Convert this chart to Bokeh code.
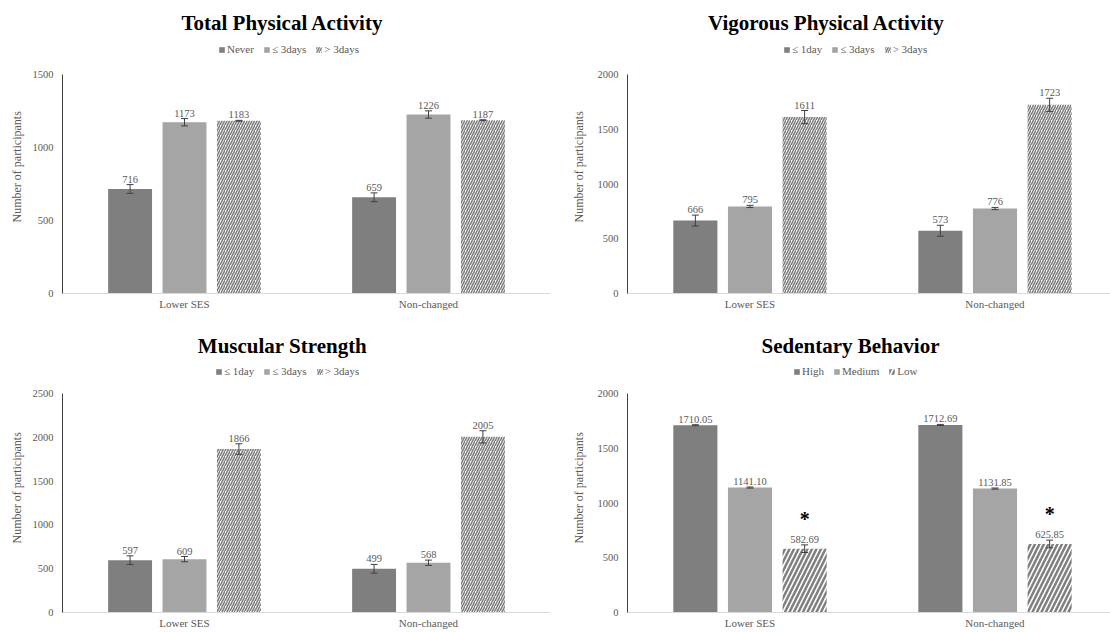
import numpy as np
from bokeh.plotting import figure
from bokeh.models import (ColumnDataSource, Range1d, FixedTicker, Legend, LegendItem,
                          Whisker, TeeHead, Label, Title)
from bokeh.layouts import column, row
from bokeh.embed import file_html
from bokeh.resources import INLINE
from bokeh.core.properties import value

# ---------------- data ----------------
groups = ["Lower SES", "Non-changed"]
y_title = "Number of participants"

tpa_title = "Total Physical Activity"
tpa_series = ["Never", "≤ 3days", "> 3days"]
tpa_never = [716, 659]
tpa_le3 = [1173, 1226]
tpa_gt3 = [1183, 1187]
tpa_err_never = [30, 30]
tpa_err_le3 = [25, 25]
tpa_err_gt3 = [3, 3]
tpa_yticks = [0, 500, 1000, 1500]

vpa_title = "Vigorous Physical Activity"
vpa_series = ["≤ 1day", "≤ 3days", "> 3days"]
vpa_le1 = [666, 573]
vpa_le3 = [795, 776]
vpa_gt3 = [1611, 1723]
vpa_err_le1 = [50, 50]
vpa_err_le3 = [10, 10]
vpa_err_gt3 = [60, 60]
vpa_yticks = [0, 500, 1000, 1500, 2000]

ms_title = "Muscular Strength"
ms_series = ["≤ 1day", "≤ 3days", "> 3days"]
ms_le1 = [597, 499]
ms_le3 = [609, 568]
ms_gt3 = [1866, 2005]
ms_err_le1 = [50, 50]
ms_err_le3 = [30, 30]
ms_err_gt3 = [60, 70]
ms_yticks = [0, 500, 1000, 1500, 2000, 2500]

sb_title = "Sedentary Behavior"
sb_series = ["High", "Medium", "Low"]
sb_high = [1710.05, 1712.69]
sb_medium = [1141.10, 1131.85]
sb_low = [582.69, 625.85]
sb_err_high = [5, 5]
sb_err_medium = [5, 5]
sb_err_low = [35, 35]
sb_yticks = [0, 500, 1000, 1500, 2000]
sb_star_series = 2          # the series marked with "*"
sb_star_text = "*"

SERIF = "Liberation Serif"
GRAY_TXT = "#595959"
COLORS = ["#7f7f7f", "#a5a5a5"]
AXIS_PX = 219   # pixel height of the value axis


def chart(title, names, vals, errs, yticks, fmt, w, h, bl, br, bb, cat_px,
          title_xy, leg_xy, ylab_off, ylab_standoff, hs, hw,
          star_series=None, star_text=None):
    frame_w = w - bl - br
    frame_h = h - bb
    xend = frame_w / cat_px
    ymax = yticks[-1]
    yend = ymax * frame_h / AXIS_PX
    p = figure(width=w, height=h, x_range=Range1d(0, xend),
               y_range=Range1d(0, yend), output_backend="svg",
               toolbar_location=None, min_border_left=bl, min_border_right=br,
               min_border_top=0, min_border_bottom=bb)
    p.outline_line_color = None
    p.grid.visible = False

    idx = np.arange(len(groups)) + 0.5
    items = []
    for k, (nm, v, e) in enumerate(zip(names, vals, errs)):
        xs = idx + (k - 1) * 0.223
        v = np.array(v, float)
        e = np.array(e, float)
        src = ColumnDataSource(dict(x=xs, top=v, up=v + e, lo=v - e,
                                    lab=[fmt.format(t) for t in v]))
        if k < 2:
            r = p.vbar(x="x", top="top", width=0.18, source=src,
                       fill_color=COLORS[k], line_color=None)
        else:
            r = p.vbar(x="x", top="top", width=0.18, source=src,
                       fill_color="white", line_color=None, hatch_pattern="/",
                       hatch_color="#7f7f7f", hatch_scale=hs, hatch_weight=hw)
        items.append(LegendItem(label=nm, renderers=[r]))
        wk = Whisker(base="x", upper="up", lower="lo", source=src,
                     line_color="#404040", line_width=1, level="annotation",
                     upper_head=TeeHead(size=7, line_color="#404040", line_width=1),
                     lower_head=TeeHead(size=7, line_color="#404040", line_width=1))
        p.add_layout(wk)
        p.text(x="x", y="up", text="lab", source=src, text_align="center",
               text_baseline="bottom", y_offset=-2, text_font=value(SERIF),
               text_font_size="10.5px", text_color=GRAY_TXT)
        if star_series is not None and k == star_series:
            ssrc = ColumnDataSource(dict(x=xs, y=v + e, t=[star_text] * len(xs)))
            p.text(x="x", y="y", text="t", source=ssrc, text_align="center",
                   text_baseline="middle", y_offset=-26, text_font=value(SERIF),
                   text_font_style="bold", text_font_size="20px", text_color="black")

    # chart title (inside the frame, screen units from frame bottom-left)
    p.add_layout(Label(x=title_xy[0], y=title_xy[1], x_units="screen", y_units="screen",
                       text=title, text_align="center", text_baseline="middle",
                       text_font=SERIF, text_font_style="bold", text_font_size="21px",
                       text_color="black"))

    leg = Legend(items=items, orientation="horizontal", location=leg_xy,
                 glyph_width=7, glyph_height=7, label_text_font=SERIF,
                 label_text_font_size="11px", label_text_color=GRAY_TXT,
                 spacing=9, label_standoff=2, padding=0, margin=0,
                 label_height=12, border_line_color=None, background_fill_alpha=0)
    p.add_layout(leg)

    ya = p.yaxis[0]
    ya.ticker = FixedTicker(ticks=yticks)
    ya.bounds = (0, ymax)
    ya.axis_line_color = "#404040"
    ya.major_tick_line_color = None
    ya.minor_tick_line_color = None
    ya.major_tick_out = 0
    ya.major_tick_in = 0
    ya.minor_tick_out = 0
    ya.major_label_text_font = SERIF
    ya.major_label_text_font_size = "10.5px"
    ya.major_label_text_color = GRAY_TXT
    ya.major_label_standoff = 9

    # value-axis title
    p.add_layout(Title(text=y_title, align="left", offset=ylab_off,
                       vertical_align="middle", standoff=ylab_standoff,
                       text_font=SERIF, text_font_style="normal",
                       text_font_size="12px", text_color=GRAY_TXT), "left")

    xa = p.xaxis[0]
    xa.ticker = FixedTicker(ticks=list(idx))
    xa.major_label_overrides = {float(c): g for c, g in zip(idx, groups)}
    xa.axis_line_color = "#d9d9d9"
    xa.major_tick_line_color = None
    xa.minor_tick_line_color = None
    xa.major_tick_out = 0
    xa.major_tick_in = 0
    xa.minor_tick_out = 0
    xa.major_label_text_font = SERIF
    xa.major_label_text_font_size = "11px"
    xa.major_label_text_color = GRAY_TXT
    xa.major_label_standoff = 4
    return p


# positions: pixels from the frame's bottom-left corner
p1 = chart(tpa_title, tpa_series, [tpa_never, tpa_le3, tpa_gt3],
           [tpa_err_never, tpa_err_le3, tpa_err_gt3], tpa_yticks, "{:.0f}",
           556, 316, 62, 6, 23, 244, (220, 271), (156, 238), 71, 9, 5, 1.6)
p2 = chart(vpa_title, vpa_series, [vpa_le1, vpa_le3, vpa_gt3],
           [vpa_err_le1, vpa_err_le3, vpa_err_gt3], vpa_yticks, "{:.0f}",
           554, 316, 71, 0, 23, 245, (199, 271), (156, 238), 71, 16, 5, 1.6)
p3 = chart(ms_title, ms_series, [ms_le1, ms_le3, ms_gt3],
           [ms_err_le1, ms_err_le3, ms_err_gt3], ms_yticks, "{:.0f}",
           556, 316, 62, 6, 20, 244, (220, 267), (153, 235), 69, 9, 5, 1.6)
p4 = chart(sb_title, sb_series, [sb_high, sb_medium, sb_low],
           [sb_err_high, sb_err_medium, sb_err_low], sb_yticks, "{:.2f}",
           554, 316, 71, 0, 20, 245, (223, 267), (166, 235), 69, 16, 9, 2.5,
           star_series=sb_star_series, star_text=sb_star_text)

layout = column(row(p1, p2), row(p3, p4))
open("out.html", "w").write(file_html(layout, INLINE))
